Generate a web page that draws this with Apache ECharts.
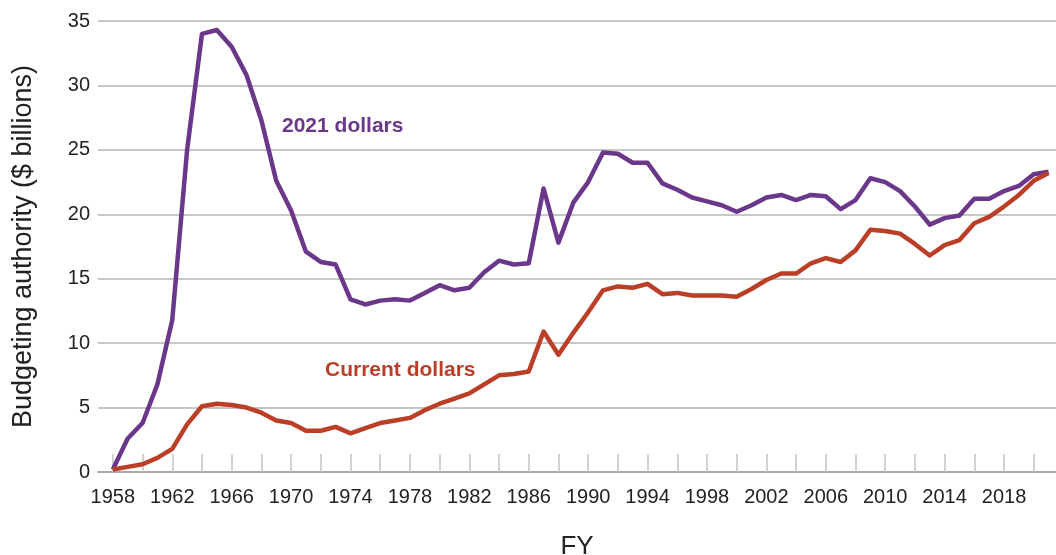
<!DOCTYPE html>
<html>
<head>
<meta charset="utf-8">
<script src="https://cdn.jsdelivr.net/npm/echarts@6/dist/echarts.min.js"></script>
<style>
  html, body { margin: 0; padding: 0; background: #fff; }
  #chart { width: 1056px; height: 555px; }
</style>
</head>
<body>
<div id="chart"></div>
<script>
// fiscal years 1958..2021
const years = [
  1958, 1959, 1960, 1961, 1962, 1963, 1964, 1965, 1966, 1967,
  1968, 1969, 1970, 1971, 1972, 1973, 1974, 1975, 1976, 1977,
  1978, 1979, 1980, 1981, 1982, 1983, 1984, 1985, 1986, 1987,
  1988, 1989, 1990, 1991, 1992, 1993, 1994, 1995, 1996, 1997,
  1998, 1999, 2000, 2001, 2002, 2003, 2004, 2005, 2006, 2007,
  2008, 2009, 2010, 2011, 2012, 2013, 2014, 2015, 2016, 2017,
  2018, 2019, 2020, 2021
];

// $ billions, constant 2021 dollars
const constDollars = [
  0.2, 2.6, 3.8, 6.8, 11.8, 25.0, 34.0, 34.3, 33.0, 30.8,
  27.3, 22.6, 20.3, 17.1, 16.3, 16.1, 13.4, 13.0, 13.3, 13.4,
  13.3, 13.9, 14.5, 14.1, 14.3, 15.5, 16.4, 16.1, 16.2, 22.0,
  17.8, 20.9, 22.5, 24.8, 24.7, 24.0, 24.0, 22.4, 21.9, 21.3,
  21.0, 20.7, 20.2, 20.7, 21.3, 21.5, 21.1, 21.5, 21.4, 20.4,
  21.1, 22.8, 22.5, 21.8, 20.6, 19.2, 19.7, 19.9, 21.2, 21.2,
  21.8, 22.2, 23.1, 23.3
];

// $ billions, current dollars
const currentDollars = [
  0.2, 0.4, 0.6, 1.1, 1.8, 3.7, 5.1, 5.3, 5.2, 5.0,
  4.6, 4.0, 3.8, 3.2, 3.2, 3.5, 3.0, 3.4, 3.8, 4.0,
  4.2, 4.8, 5.3, 5.7, 6.1, 6.8, 7.5, 7.6, 7.8, 10.9,
  9.1, 10.8, 12.4, 14.1, 14.4, 14.3, 14.6, 13.8, 13.9, 13.7,
  13.7, 13.7, 13.6, 14.2, 14.9, 15.4, 15.4, 16.2, 16.6, 16.3,
  17.2, 18.8, 18.7, 18.5, 17.7, 16.8, 17.6, 18.0, 19.3, 19.8,
  20.6, 21.5, 22.6, 23.2
];

const xTickYears = [
  1958, 1960, 1962, 1964, 1966, 1968, 1970, 1972, 1974, 1976,
  1978, 1980, 1982, 1984, 1986, 1988, 1990, 1992, 1994, 1996,
  1998, 2000, 2002, 2004, 2006, 2008, 2010, 2012, 2014, 2016,
  2018, 2020
];
const xLabelYears = [
  1958, 1962, 1966, 1970, 1974, 1978, 1982, 1986, 1990, 1994,
  1998, 2002, 2006, 2010, 2014, 2018
];

const PURPLE = '#6b378b';
const RED = '#bb3f26';
const FONT = '"Liberation Sans", Arial, Helvetica, sans-serif';

const chart = echarts.init(document.getElementById('chart'));

chart.setOption({
  animation: false,
  textStyle: { fontFamily: FONT },
  grid: { left: 98, right: 0, top: 21, bottom: 83, containLabel: false, outerBoundsMode: 'none' },
  xAxis: {
    type: 'value',
    min: 1957,
    max: 2021.5,
    name: 'FY',
    nameLocation: 'middle',
    nameGap: 62,
    nameTextStyle: { fontSize: 26, color: '#222', fontFamily: FONT },
    splitLine: { show: false },
    axisLine: { show: true, onZero: false, lineStyle: { color: '#a0a0a0', width: 1.5 } },
    axisTick: {
      show: true,
      inside: true,
      length: 18,
      customValues: xTickYears,
      lineStyle: { color: '#c4c4c4', width: 1.5 }
    },
    axisLabel: {
      customValues: xLabelYears,
      margin: 15,
      fontSize: 20,
      color: '#222',
      formatter: v => String(v)
    }
  },
  yAxis: {
    type: 'value',
    min: 0,
    max: 35,
    interval: 5,
    name: 'Budgeting authority ($ billions)',
    nameLocation: 'middle',
    nameGap: 61,
    nameTextStyle: { fontSize: 27, color: '#222', fontFamily: FONT },
    axisLine: { show: false },
    axisTick: { show: false },
    axisLabel: { margin: 8, fontSize: 20, color: '#222' },
    splitLine: { lineStyle: { color: '#b4b4b4', width: 1.5 } }
  },
  graphic: [
    {
      type: 'text',
      left: 282,
      top: 116,
      style: { text: '2021 dollars', fill: PURPLE, font: 'bold 21px ' + FONT }
    },
    {
      type: 'text',
      left: 325,
      top: 360,
      style: { text: 'Current dollars', fill: RED, font: 'bold 21px ' + FONT }
    }
  ],
  series: [
    {
      name: '2021 dollars',
      type: 'line',
      data: years.map((y, i) => [y, constDollars[i]]),
      symbol: 'none',
      lineStyle: { color: PURPLE, width: 4.5, join: 'round' },
      z: 3
    },
    {
      name: 'Current dollars',
      type: 'line',
      data: years.map((y, i) => [y, currentDollars[i]]),
      symbol: 'none',
      lineStyle: { color: RED, width: 4.5, join: 'round' },
      z: 4
    }
  ]
});
</script>
</body>
</html>
